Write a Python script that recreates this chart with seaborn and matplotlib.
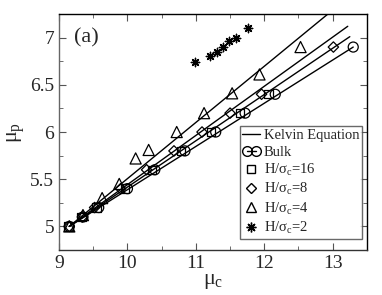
import matplotlib
matplotlib.use("Agg")
import matplotlib.pyplot as plt
import seaborn as sns
from matplotlib.lines import Line2D
from matplotlib.legend_handler import HandlerLine2D
from matplotlib.ticker import MultipleLocator

# Kelvin equation lines (start and end points)
kelvin_x = [[9.15, 13.30], [9.15, 13.25], [9.15, 13.22], [9.15, 13.35]]
kelvin_y = [[5.0, 6.90], [5.0, 7.01], [5.0, 7.12], [5.0, 7.50]]

# simulation data
bulk_x = [9.15, 9.35, 9.58, 10.0, 10.4, 10.84, 11.29, 11.72, 12.16, 13.30]
bulk_y = [5.0, 5.1, 5.2, 5.4, 5.6, 5.8, 6.0, 6.2, 6.4, 6.9]

h16_x = [9.14, 9.33, 9.55, 9.96, 10.36, 10.78, 11.22, 11.65, 12.06]
h16_y = [5.0, 5.1, 5.2, 5.4, 5.6, 5.8, 6.0, 6.2, 6.4]

h8_x = [9.15, 9.34, 9.52, 9.9, 10.28, 10.68, 11.09, 11.50, 11.96, 13.01]
h8_y = [5.0, 5.1, 5.2, 5.4, 5.6, 5.8, 6.0, 6.2, 6.4, 6.9]

h4_x = [9.15, 9.35, 9.63, 9.88, 10.12, 10.31, 10.72, 11.12, 11.53, 11.93, 12.53]
h4_y = [5.0, 5.12, 5.3, 5.45, 5.72, 5.81, 6.0, 6.2, 6.41, 6.61, 6.9]

h2_x = [10.99, 11.21, 11.31, 11.40, 11.49, 11.59, 11.76]
h2_y = [6.74, 6.80, 6.85, 6.90, 6.96, 7.00, 7.10]

sns.set_style("ticks")
plt.rcParams['font.family'] = ['Liberation Serif', 'DejaVu Serif']
plt.rcParams['mathtext.fontset'] = 'custom'
plt.rcParams['mathtext.rm'] = 'Liberation Serif'
plt.rcParams['mathtext.it'] = 'Liberation Serif'

fig = plt.figure(figsize=(3.82, 2.95), dpi=100)
ax = fig.add_axes([0.1545, 0.1525, 0.806, 0.80])

for kx, ky in zip(kelvin_x, kelvin_y):
    sns.lineplot(x=kx, y=ky, ax=ax, color='black', linewidth=1.0, estimator=None, sort=False)

mk = dict(facecolor='none', edgecolor='black', linewidth=0.9, ax=ax, zorder=3)
sns.scatterplot(x=bulk_x, y=bulk_y, marker='o', s=52, **mk)
sns.scatterplot(x=h16_x, y=h16_y, marker='s', s=36, **mk)
sns.scatterplot(x=h8_x, y=h8_y, marker='D', s=28, **mk)
sns.scatterplot(x=h4_x, y=h4_y, marker='^', s=64, **mk)
sns.scatterplot(x=h2_x, y=h2_y, marker=(8, 2, 0), s=36, color='black', linewidth=1.0, ax=ax, zorder=3)

ax.set_xlim(9, 13.5)
ax.set_ylim(4.75, 7.25)
ax.xaxis.set_minor_locator(MultipleLocator(0.5))
ax.yaxis.set_minor_locator(MultipleLocator(0.25))
ax.set_xticks([9, 10, 11, 12, 13])
ax.set_xticklabels(['9', '10', '11', '12', '13'])
ax.set_yticks([5, 5.5, 6, 6.5, 7])
ax.set_yticklabels(['5', '5.5', '6', '6.5', '7'])
ax.tick_params(which='both', direction='in', top=True, right=True, labelsize=14, color='#555555')
ax.tick_params(which='major', length=5)
ax.tick_params(which='minor', length=3)
for sp in ax.spines.values():
    sp.set_linewidth(1.0)
    sp.set_color('black')
ax.spines['left'].set_color('#666666')
ax.spines['bottom'].set_color('#333333')

ax.set_xlabel(r'$\mu_{c}$', fontsize=16, labelpad=0)
ax.set_ylabel(r'$\mu_{p}$', fontsize=16, labelpad=2)
ax.text(0.05, 0.90, '(a)', transform=ax.transAxes, fontsize=16, va='center', ha='left')

hk = Line2D([], [], color='black', linewidth=1.0)
hb = Line2D([], [], color='black', linewidth=1.0, marker='o', mfc='none', mec='black', ms=7)
hs = Line2D([], [], linestyle='', marker='s', mfc='none', mec='black', ms=6)
hd = Line2D([], [], linestyle='', marker='D', mfc='none', mec='black', ms=5)
ht = Line2D([], [], linestyle='', marker='^', mfc='none', mec='black', ms=7)
ha = Line2D([], [], linestyle='', marker=(8, 2, 0), color='black', ms=7)
labels = ['Kelvin Equation', 'Bulk', r'H/$\sigma_{c}$=16', r'H/$\sigma_{c}$=8',
          r'H/$\sigma_{c}$=4', r'H/$\sigma_{c}$=2']
leg = ax.legend([hk, hb, hs, hd, ht, ha], labels, loc='lower right',
                bbox_to_anchor=(0.984, 0.047), borderaxespad=0, fontsize=10.5,
                numpoints=1, handlelength=1.2, handletextpad=0.25, labelspacing=0.22,
                borderpad=0.2, fancybox=False, frameon=True,
                handler_map={hb: HandlerLine2D(numpoints=2)})
leg.get_frame().set_edgecolor('#444444')
leg.get_frame().set_linewidth(1.0)

fig.savefig('out.png', dpi=100)
